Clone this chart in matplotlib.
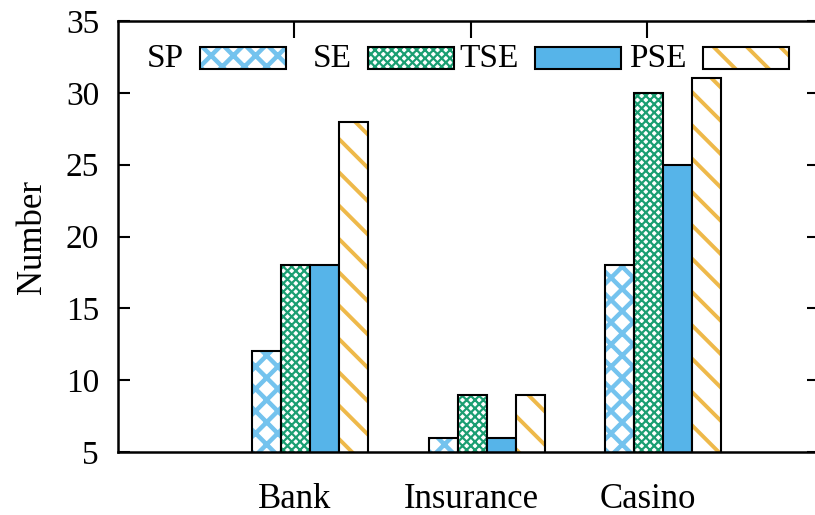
import numpy as np
import matplotlib.pyplot as plt
from matplotlib.patches import Rectangle

plt.rcParams["font.family"] = ["Liberation Serif", "DejaVu Serif"]
plt.rcParams["font.size"] = 12

categories = ["Bank", "Insurance", "Casino"]
series = ["SP", "SE", "TSE", "PSE"]
sp_vals = [12, 6, 18]
se_vals = [18, 9, 30]
tse_vals = [18, 6, 25]
pse_vals = [28, 9, 31]
y_ticks = [5, 10, 15, 20, 25, 30, 35]

values = [sp_vals, se_vals, tse_vals, pse_vals]

# fill colour, hatch, hatch colour, hatch line width
styles = [
    ("white", "xxx", "#74c3ee", 1.6),
    ("white", "xxxxxxxx", "#1b9e72", 0.8),
    ("#56b4e9", "", "#56b4e9", 0.0),
    ("white", "\\\\", "#eeb94a", 1.4),
]


def hatched_patch_pair(make, face, hatch, hcolor, hlw):
    """Draw a hatched fill and then a black outline on top of it."""
    with plt.rc_context({"hatch.linewidth": max(hlw, 0.1)}):
        fill = make(facecolor=face, edgecolor=hcolor, linewidth=0, hatch=hatch)
    patches = fill.patches if hasattr(fill, "patches") else [fill]
    for p in patches:
        if hasattr(p, "set_hatch_linewidth"):
            p.set_hatch_linewidth(max(hlw, 0.1))
    make(facecolor="none", edgecolor="black", linewidth=0.75)


fig = plt.figure(figsize=(8.15 / 2, 5.15 / 2), dpi=200)
ax = fig.add_axes([118 / 815, 63 / 515, 700.7 / 815, 431 / 515])

x = np.arange(len(categories))
width = 0.164
shift = 0.09

for j, (vals, (face, hatch, hcolor, hlw)) in enumerate(zip(values, styles)):
    pos = x + shift + (j - 1.5) * width
    hatched_patch_pair(lambda **kw: ax.bar(pos, vals, width, **kw),
                       face, hatch, hcolor, hlw)

# legend row: label to the left of each sample box
box_w, box_h = 0.1227, 0.051
for j, (name, (face, hatch, hcolor, hlw)) in enumerate(zip(series, styles)):
    x0 = 0.117 + j * 0.2393
    hatched_patch_pair(
        lambda **kw: ax.add_patch(Rectangle((x0, 0.8886), box_w, box_h,
                                            transform=ax.transAxes,
                                            clip_on=False, zorder=5, **kw)),
        face, hatch, hcolor, hlw)
    ax.text(x0 - 0.023, 0.913, name, transform=ax.transAxes,
            ha="right", va="center", fontsize=12)

ax.set_xlim(-1.0, 2.97)
ax.set_ylim(5, 35)
ax.set_yticks(y_ticks)
ax.set_xticks(x, categories)

ax.tick_params(axis="y", direction="in", left=True, right=True,
               length=4.3, width=0.75, pad=6.8, labelsize=12)
ax.tick_params(axis="x", direction="in", bottom=False, top=True,
               length=6.1, width=0.75, pad=11, labelsize=12.5)

for s in ax.spines.values():
    s.set_linewidth(0.9)

ax.set_ylabel("Number", fontsize=12.5, labelpad=6)

fig.savefig("out.png", dpi=200)
